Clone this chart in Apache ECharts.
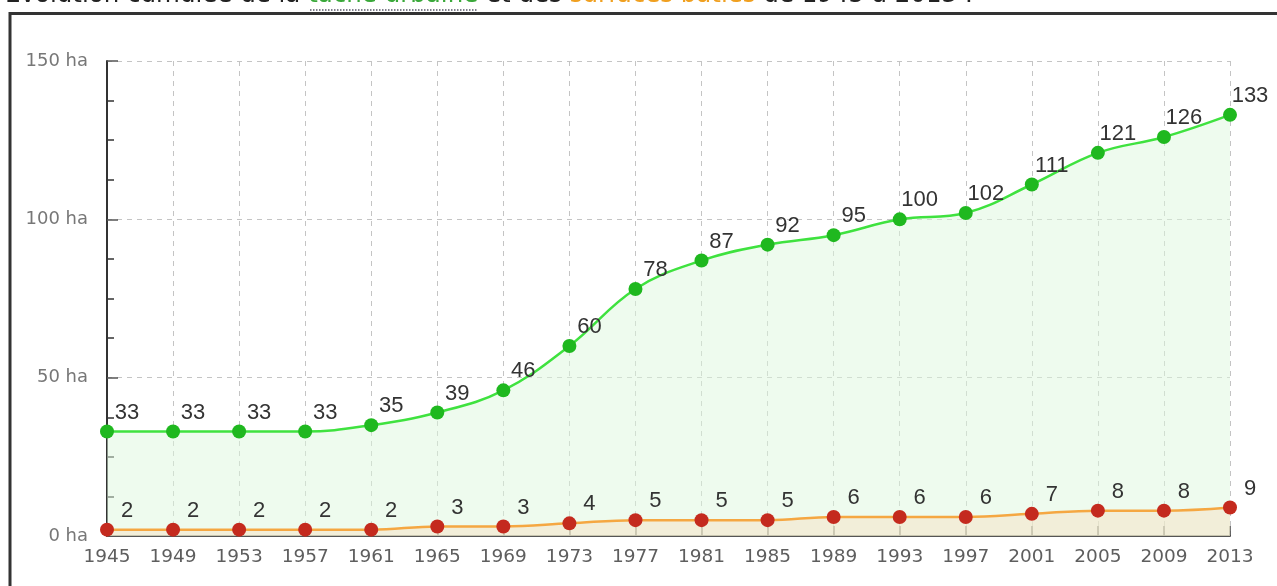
<!DOCTYPE html>
<html>
<head>
<meta charset="utf-8">
<script src="https://cdn.jsdelivr.net/npm/echarts@6/dist/echarts.min.js"></script>
<style>
  html, body { margin: 0; padding: 0; background: #fff; }
  #chart { width: 1277px; height: 586px; }
</style>
</head>
<body>
<div id="chart"></div>
<script>
// Années des relevés
const years = ['1945', '1949', '1953', '1957', '1961', '1965', '1969', '1973', '1977',
               '1981', '1985', '1989', '1993', '1997', '2001', '2005', '2009', '2013'];
// Tache urbaine cumulée (ha)
const tacheUrbaine = [33, 33, 33, 33, 35, 39, 46, 60, 78, 87, 92, 95, 100, 102, 111, 121, 126, 133];
// Surfaces bâties cumulées (ha)
const surfacesBaties = [2, 2, 2, 2, 2, 3, 3, 4, 5, 5, 5, 6, 6, 6, 7, 8, 8, 9];
// Graduations de l'axe des surfaces
const yMin = 0, yMax = 150, yStep = 50;

const chart = echarts.init(document.getElementById('chart'), null, { renderer: 'canvas' });

const valueLabel = {
  show: true,
  position: 'inside',
  offset: [20, -19],
  color: '#333',
  fontFamily: 'Liberation Sans',
  fontSize: 22
};

chart.setOption({
  animation: false,
  backgroundColor: '#fff',
  grid: { left: 107, right: 47, top: 61, bottom: 50 },
  graphic: [
    {
      type: 'text',
      x: 5,
      y: 8,
      z: 10,
      style: {
        text: '{k|Évolution cumulée de la }{g|tache urbaine}{k| et des }{o|surfaces bâties}{k| de 1945 à 2013 :}',
        font: '24.5px "DejaVu Sans"',
        verticalAlign: 'bottom',
        rich: {
          k: { fontFamily: 'DejaVu Sans', fontSize: 24.5, fill: '#222' },
          g: { fontFamily: 'DejaVu Sans', fontSize: 24.5, fill: '#3aa83a' },
          o: { fontFamily: 'DejaVu Sans', fontSize: 24.5, fill: '#f0a020' }
        }
      }
    },
    {
      type: 'line',
      z: 10,
      shape: { x1: 310, y1: 10, x2: 478, y2: 10 },
      style: { stroke: '#556', lineWidth: 1.5, lineDash: [1.5, 1.5] }
    },
    {
      type: 'rect',
      z: 10,
      shape: { x: 10, y: 13.5, width: 1300, height: 620 },
      style: { fill: 'none', stroke: '#333', lineWidth: 3 }
    }
  ],
  xAxis: {
    type: 'category',
    data: years,
    boundaryGap: false,
    axisLine: { lineStyle: { color: '#555', width: 2 } },
    axisTick: { inside: true, length: 10, interval: 0, lineStyle: { color: '#444', width: 1.5 } },
    axisLabel: {
      interval: 0,
      margin: 12,
      color: '#5e5e5e',
      fontFamily: 'DejaVu Sans',
      fontSize: 18.5
    },
    splitLine: { show: true, interval: 0, lineStyle: { color: '#c4c4c4', type: [5, 5], width: 1 } }
  },
  yAxis: {
    type: 'value',
    min: yMin,
    max: yMax,
    interval: yStep,
    axisLine: { show: true, lineStyle: { color: '#333', width: 2 } },
    axisTick: { show: true, inside: true, length: 11, lineStyle: { color: '#555', width: 1.5 } },
    minorTick: { show: true, splitNumber: 4, length: 7, lineStyle: { color: '#333', width: 1.5 } },
    axisLabel: {
      formatter: '{value} ha',
      margin: 19,
      color: '#777',
      fontFamily: 'DejaVu Sans',
      fontSize: 18
    },
    splitLine: { show: true, lineStyle: { color: '#c4c4c4', type: [5, 5], width: 1 } }
  },
  series: [
    {
      name: 'Tache urbaine',
      type: 'line',
      data: tacheUrbaine,
      smooth: 0.4,
      symbol: 'circle',
      symbolSize: 14,
      showAllSymbol: true,
      lineStyle: { color: '#3fe23f', width: 2.5 },
      itemStyle: { color: '#1fb81f' },
      areaStyle: { color: '#def7de', opacity: 0.5 },
      label: valueLabel,
      z: 2
    },
    {
      name: 'Surfaces bâties',
      type: 'line',
      data: surfacesBaties,
      smooth: 0.4,
      symbol: 'circle',
      symbolSize: 14,
      showAllSymbol: true,
      lineStyle: { color: '#f5a742', width: 2.5 },
      itemStyle: { color: '#c42a1e' },
      areaStyle: { color: '#f6e2c4', opacity: 0.5 },
      label: valueLabel,
      z: 3
    }
  ]
});
</script>
</body>
</html>
